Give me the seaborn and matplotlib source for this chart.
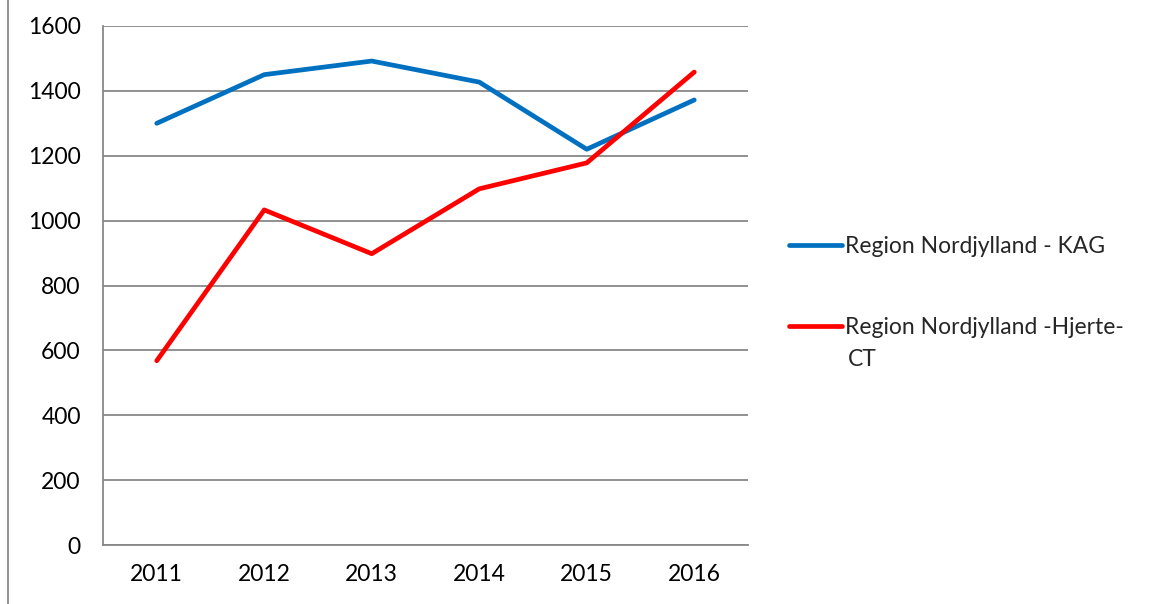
import matplotlib
matplotlib.use("Agg")
import matplotlib.pyplot as plt
import seaborn as sns
import pandas as pd
import numpy as np
from matplotlib.lines import Line2D

years = ["2011", "2012", "2013", "2014", "2015", "2016"]
kag = [1300, 1450, 1492, 1427, 1220, 1372]
hjerte_ct = [568, 1033, 898, 1098, 1178, 1458]
series_names = ["Region Nordjylland - KAG", "Region Nordjylland -Hjerte-"]
series_cont = ["", "CT"]
colors = ["#0070C0", "#FF0000"]

sns.set_theme(style="white")
plt.rcParams['font.family'] = ['Lato', 'DejaVu Sans']
FS = 16.5
LW = 3.4

df = pd.DataFrame({
    "x": list(range(len(years))) * 2,
    "value": kag + hjerte_ct,
    "series": [series_names[0]] * len(years) + [series_names[1]] * len(years),
})

fig = plt.figure(figsize=(11.68, 6.04), dpi=100)
ax = fig.add_axes([103/1168, 1-545/604, (748-103)/1168, (545-26)/604])

sns.lineplot(data=df, x="x", y="value", hue="series", palette=colors,
             linewidth=LW, ax=ax, legend=False, solid_capstyle="round")

ax.set_xlim(-0.5, len(years) - 0.5)
ax.set_ylim(0, 1600)
ax.set_yticks(np.arange(0, 1601, 200))
ax.yaxis.grid(True, color="#888888", linewidth=1.3)
ax.set_axisbelow(True)
ax.set_xticks(range(len(years)))
ax.set_xticklabels(years)
ax.set_xticks(np.arange(-0.5, len(years), 1.0), minor=True)
ax.tick_params(axis="x", which="major", length=0, pad=14, labelsize=FS, colors="black")
ax.tick_params(axis="x", which="minor", length=6, width=1.3, color="#888888", direction="out")
ax.tick_params(axis="y", length=8, width=1.3, color="#888888", pad=8, labelsize=FS, labelcolor="black")
ax.set_xlabel("")
ax.set_ylabel("")
for s in ["top", "right"]:
    ax.spines[s].set_visible(False)
for s in ["left", "bottom"]:
    ax.spines[s].set_color("#888888")
    ax.spines[s].set_linewidth(1.3)

handles = [Line2D([0], [0], color=c, linewidth=LW, solid_capstyle="round") for c in colors]
leg = fig.legend(handles, series_names, loc="center left", bbox_to_anchor=(789/1168, 1-287/604),
                 frameon=False, fontsize=FS, handlelength=2.3, handletextpad=0.15,
                 labelspacing=2.6, borderpad=0, borderaxespad=0)
fig.text(848/1168, 1-360/604, series_cont[1], fontsize=FS, va="center", ha="left")

fig.add_artist(Line2D([8/1168, 8/1168], [0, 1], color="#888888", linewidth=1.3,
                      transform=fig.transFigure))

fig.savefig("out.png", dpi=100, facecolor="white")
